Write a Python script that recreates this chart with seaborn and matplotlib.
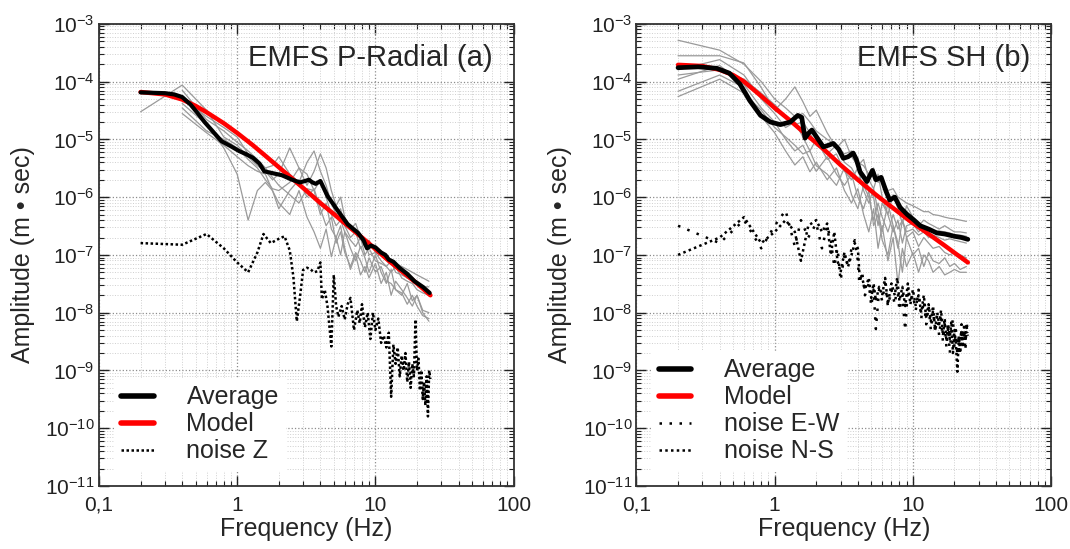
import numpy as np
import matplotlib
matplotlib.use("Agg")
import matplotlib.pyplot as plt
from matplotlib.ticker import LogLocator, NullFormatter
import seaborn as sns

# =====================================================
# DATA
# =====================================================
x_tick_labels = ["0,1", "1", "10", "100"]

# --- panel (a): P-Radial ---
freq_model_a = [0.2, 0.3, 0.4, 0.5, 0.6, 0.8, 1.0, 1.3, 1.6, 2.0, 2.5, 3.2, 4.0,
                5.0, 6.3, 8.0, 10, 12.5, 16, 20, 25]
model_a = [6.6e-5, 6.0e-5, 4.9e-5, 3.8e-5, 2.95e-5, 1.9e-5, 1.29e-5, 7.9e-6, 5.2e-6,
           3.3e-6, 2.1e-6, 1.26e-6, 7.9e-7, 5.1e-7, 3.2e-7, 2.0e-7, 1.26e-7, 7.9e-8,
           4.9e-8, 3.2e-8, 2.0e-8]

freq_avg_a = [0.2, 0.3, 0.35, 0.4, 0.46, 0.52, 0.58, 0.68, 0.77, 0.9, 1.03, 1.15, 1.3,
              1.45, 1.57, 1.8, 2.1, 2.5, 2.84, 3.1, 3.3, 3.5, 3.7, 4.0, 4.5, 5.3, 6.3,
              7.0, 7.5, 8.2, 8.7, 9.3, 10, 11, 11.8, 12.5, 13.5, 14.9, 17, 19.2, 22, 24.7]
avg_a = [6.5e-5, 6.3e-5, 6.0e-5, 5.4e-5, 4.0e-5, 2.8e-5, 2.0e-5, 1.3e-5, 9.3e-6, 7.6e-6,
         6.3e-6, 5.6e-6, 4.8e-6, 3.8e-6, 2.8e-6, 2.6e-6, 2.4e-6, 2.0e-6, 1.8e-6, 1.9e-6,
         2.0e-6, 1.8e-6, 1.7e-6, 1.9e-6, 1.05e-6, 6.0e-7, 3.4e-7, 2.75e-7, 2.4e-7, 1.8e-7,
         1.3e-7, 1.45e-7, 1.35e-7, 1.1e-7, 1.0e-7, 8.3e-8, 7.6e-8, 6.0e-8, 4.7e-8, 3.5e-8,
         2.8e-8, 2.2e-8]

# single-station spectra share one frequency list
freq_grey = [0.2, 0.4, 0.6, 0.8, 1.0, 1.2, 1.4, 1.6, 1.8, 2.0, 2.4, 2.8, 3.2, 3.6, 4.0,
             4.4, 4.8, 5.2, 5.6, 6.0, 6.6, 7.2, 7.8, 8.4, 9.0, 10, 11, 12, 13, 14, 15.5,
             17, 18.5, 20, 22, 24.4]

sta_a1 = [3.0e-5, 8.7e-5, 3.2e-5, 1.1e-5, 7.9e-6, 5.0e-6, 3.5e-6, 2.8e-6, 2.0e-6, 2.5e-6,
          7.1e-6, 3.2e-6, 1.6e-6, 2.8e-6, 5.6e-6, 3.2e-6, 1.3e-6, 7.1e-7, 1.0e-6, 4.5e-7,
          2.8e-7, 3.5e-7, 2.0e-7, 1.4e-7, 1.8e-7, 1.1e-7, 1.0e-7, 8.9e-8, 7.9e-8, 7.1e-8,
          6.3e-8, 5.6e-8, 5.0e-8, 4.5e-8, 4.0e-8, 3.5e-8]
sta_a2 = [None, 7.1e-5, 2.2e-5, 1.4e-5, 8.9e-6, 6.3e-6, 4.5e-6, 3.2e-6, 3.5e-6, 5.0e-6,
          2.5e-6, 1.8e-6, 4.0e-6, 6.3e-6, 2.8e-6, 1.6e-6, 7.9e-7, 5.0e-7, 6.3e-7, 3.2e-7,
          2.0e-7, 2.5e-7, 1.3e-7, 1.6e-7, 1.0e-7, 1.1e-7, 7.9e-8, 6.3e-8, 7.9e-8, 5.0e-8,
          4.5e-8, 4.0e-8, 3.5e-8, 3.2e-8, 2.8e-8, 2.8e-8]
sta_a3 = [None, 4.2e-5, 1.8e-5, 7.1e-6, 2.5e-6, 4.0e-7, 1.3e-6, 1.8e-6, 1.3e-6, 6.3e-7,
          1.3e-6, 2.0e-6, 1.0e-6, 1.4e-6, 6.3e-7, 3.2e-7, 4.5e-7, 1.6e-7, 2.5e-7, 1.1e-7,
          6.3e-8, 1.1e-7, 7.9e-8, 5.0e-8, 8.9e-8, 5.0e-8, 6.3e-8, 3.5e-8, 3.2e-8, 2.5e-8,
          2.2e-8, 1.4e-8, 2.0e-8, 1.3e-8, 8.9e-9, 7.9e-9]
sta_a4 = [None, 3.5e-5, 1.4e-5, 1.0e-5, 7.1e-6, 4.5e-6, 3.2e-6, 2.0e-6, 1.4e-6, 1.3e-6,
          1.8e-6, 3.2e-6, 2.5e-6, 1.3e-6, 2.0e-6, 1.0e-6, 5.0e-7, 3.2e-7, 4.0e-7, 2.5e-7,
          1.8e-7, 1.4e-7, 2.0e-7, 1.0e-7, 1.3e-7, 7.9e-8, 7.1e-8, 6.3e-8, 5.0e-8, 6.3e-8,
          4.0e-8, 3.5e-8, 3.2e-8, 2.5e-8, 2.2e-8, 2.0e-8]
sta_a5 = [None, 5.0e-5, 2.5e-5, 1.6e-5, 1.1e-5, 5.6e-6, 4.0e-6, 3.2e-6, 2.2e-6, 1.6e-6,
          1.1e-6, 7.9e-7, 1.4e-6, 1.3e-6, 5.0e-7, 7.9e-7, 2.8e-7, 2.0e-7, 1.0e-7, 2.5e-7,
          1.3e-7, 7.9e-8, 1.4e-7, 8.9e-8, 5.0e-8, 1.0e-7, 5.0e-8, 3.2e-8, 5.6e-8, 2.5e-8,
          2.0e-8, 3.2e-8, 1.6e-8, 2.0e-8, 1.1e-8, 1.0e-8]
sta_a6 = [None, 2.8e-5, 1.3e-5, 7.9e-6, 5.0e-6, 3.5e-6, 2.8e-6, 2.5e-6, 1.3e-6, 7.9e-7,
          5.0e-7, 1.3e-6, 4.5e-7, 2.5e-7, 1.3e-7, 2.8e-7, 9.3e-8, 2.0e-7, 3.2e-7, 1.3e-7,
          5.6e-8, 1.0e-7, 4.5e-8, 6.3e-8, 4.0e-8, 7.1e-8, 3.2e-8, 5.0e-8, 2.0e-8, 3.5e-8,
          2.5e-8, 1.8e-8, 1.3e-8, 2.0e-8, 1.0e-8, 7.1e-9]

# noise spectra share one frequency list
freq_noise = [0.2, 0.4, 0.6, 0.8, 1.0, 1.2, 1.4, 1.55, 1.75, 2.0, 2.2, 2.4, 2.55, 2.7,
              2.85, 3.0, 3.2, 3.4, 3.6, 3.8, 4.0, 4.1, 4.3, 4.5, 4.8, 5.0, 5.2, 5.4, 5.7,
              6.0, 6.3, 6.6, 7.0, 7.4, 7.7, 8.0, 8.4, 8.8, 9.2, 9.6, 10.0, 10.5, 11.0,
              11.5, 12.0, 12.5, 13.0, 13.5, 14.0, 14.5, 15.0, 15.5, 16.0, 16.5, 17.0,
              17.5, 18.0, 18.5, 19.0, 19.5, 20.0, 20.5, 21.0, 21.5, 22.0, 22.5, 23.0,
              23.5, 24.0, 24.5, 25.0]
noise_z = [1.6e-7, 1.5e-7, 2.3e-7, 1.3e-7, 7.4e-8, 5.0e-8, 1.1e-7, 2.3e-7, 1.6e-7, 1.9e-7,
           2.1e-7, 1.2e-7, 4.2e-8, 7.1e-9, 1.9e-8, 5.5e-8, 6.0e-8, 5.6e-8, 5.0e-8, 5.2e-8,
           7.4e-8, 1.7e-8, 2.5e-8, 1.3e-8, 2.6e-9, 4.5e-8, 1.3e-8, 8.5e-9, 1.3e-8, 7.6e-9,
           1.4e-8, 1.8e-8, 5.0e-9, 1.1e-8, 6.6e-9, 1.4e-8, 5.6e-9, 1.0e-8, 3.5e-9, 1.0e-8,
           5.0e-9, 7.9e-9, 3.0e-9, 4.0e-9, 2.5e-9, 4.5e-9, 3.5e-10, 2.8e-9, 1.3e-9, 2.5e-9,
           7.9e-10, 1.8e-9, 1.0e-9, 2.0e-9, 6.3e-10, 1.4e-9, 5.0e-10, 1.3e-9, 7.9e-10, 7.6e-9,
           1.0e-9, 1.6e-9, 4.5e-10, 1.0e-9, 3.2e-10, 6.3e-10, 2.5e-10, 7.9e-10, 1.6e-10,
           1.0e-9, 7.1e-10]

# --- panel (b): SH ---
freq_model_b = [0.2, 0.3, 0.4, 0.5, 0.6, 0.8, 1.0, 1.3, 1.7, 2.2, 3.0, 4.0, 5.4, 7.0,
                9.6, 13, 17, 21, 25]
model_b = [1.95e-4, 1.86e-4, 1.6e-4, 1.3e-4, 1.0e-4, 5.6e-5, 3.5e-5, 2.1e-5, 1.2e-5,
           7.2e-6, 3.6e-6, 2.0e-6, 1.1e-6, 6.8e-7, 3.8e-7, 2.3e-7, 1.45e-7, 1.0e-7, 7.4e-8]

freq_avg_b = [0.2, 0.28, 0.38, 0.47, 0.56, 0.66, 0.79, 0.93, 1.1, 1.3, 1.47, 1.57, 1.66,
              1.75, 1.86, 2.0, 2.25, 2.45, 2.66, 2.9, 3.14, 3.4, 3.7, 3.9, 4.15, 4.65,
              5.1, 5.4, 5.9, 6.4, 6.8, 7.4, 8.1, 9.1, 10.2, 11.3, 13.0, 14.9, 17, 20,
              22.5, 25]
avg_b = [1.74e-4, 1.8e-4, 1.7e-4, 1.4e-4, 9.1e-5, 4.7e-5, 2.6e-5, 2.0e-5, 1.8e-5, 2.0e-5,
         2.6e-5, 2.4e-5, 1.05e-5, 1.26e-5, 1.45e-5, 1.12e-5, 7.4e-6, 7.9e-6, 8.5e-6, 6.8e-6,
         4.7e-6, 5.0e-6, 5.8e-6, 4.5e-6, 2.75e-6, 1.86e-6, 2.9e-6, 2.0e-6, 2.2e-6, 1.26e-6,
         8.9e-7, 1.0e-6, 6.6e-7, 5.0e-7, 4.0e-7, 3.2e-7, 2.8e-7, 2.4e-7, 2.3e-7, 2.1e-7,
         2.0e-7, 1.86e-7]

sta_b1 = [5.2e-4, 3.5e-4, 2.0e-4, 1.0e-4, 5.0e-5, 3.5e-5, 2.5e-5, 2.8e-5, 2.0e-5, 1.4e-5,
          1.0e-5, 7.9e-6, 5.6e-6, 6.3e-6, 4.0e-6, 3.5e-6, 2.5e-6, 3.2e-6, 1.8e-6, 2.0e-6,
          1.3e-6, 1.4e-6, 1.0e-6, 8.9e-7, 7.9e-7, 7.1e-7, 6.3e-7, 5.6e-7, 5.6e-7, 5.0e-7,
          4.8e-7, 4.5e-7, 4.3e-7, 4.2e-7, 4.0e-7, 3.8e-7]
sta_b2 = [2.8e-4, 2.8e-4, 2.1e-4, 7.9e-5, 3.2e-5, 5.0e-5, 8.1e-5, 4.5e-5, 2.5e-5, 3.2e-5,
          1.3e-5, 7.1e-6, 1.0e-5, 5.0e-6, 3.5e-6, 4.5e-6, 2.0e-6, 1.4e-6, 2.5e-6, 1.0e-6,
          5.0e-7, 1.1e-6, 6.3e-7, 3.5e-7, 7.1e-7, 4.5e-7, 3.2e-7, 4.0e-7, 3.5e-7, 3.2e-7,
          2.8e-7, 3.2e-7, 2.8e-7, 2.5e-7, 2.5e-7, 2.4e-7]
sta_b3 = [1.6e-4, 2.4e-4, 1.3e-4, 5.0e-5, 2.8e-5, 1.6e-5, 2.0e-5, 1.1e-5, 6.3e-6, 1.0e-5,
          4.5e-6, 5.6e-6, 2.8e-6, 2.0e-6, 3.2e-6, 1.3e-6, 7.9e-7, 1.4e-6, 5.6e-7, 2.5e-7,
          7.9e-7, 3.2e-7, 1.3e-7, 4.0e-7, 2.0e-7, 2.5e-7, 1.4e-7, 2.0e-7, 1.6e-7, 1.3e-7,
          1.4e-7, 1.1e-7, 1.0e-7, 1.1e-7, 1.0e-7, 8.9e-8]
sta_b4 = [1.1e-4, 1.9e-4, 8.9e-5, 3.5e-5, 2.0e-5, 1.0e-5, 6.3e-6, 7.9e-6, 4.5e-6, 2.8e-6,
          5.0e-6, 2.5e-6, 1.6e-6, 2.5e-6, 1.0e-6, 6.3e-7, 1.3e-6, 3.2e-7, 5.0e-7, 1.8e-7,
          1.0e-7, 3.2e-7, 1.6e-7, 5.0e-8, 2.0e-7, 1.0e-7, 1.3e-7, 6.3e-8, 1.1e-7, 7.9e-8,
          7.1e-8, 8.9e-8, 6.3e-8, 7.1e-8, 5.6e-8, 6.3e-8]
sta_b5 = [6.8e-5, 1.3e-4, 7.9e-5, 2.5e-5, 1.3e-5, 6.3e-6, 3.6e-6, 5.0e-6, 2.75e-6, 4.0e-6,
          2.0e-6, 3.2e-6, 1.3e-6, 7.9e-7, 1.4e-6, 5.0e-7, 2.5e-7, 6.3e-7, 1.3e-7, 3.2e-7,
          7.9e-8, 2.0e-7, 3.2e-8, 1.3e-7, 6.3e-8, 1.1e-7, 5.0e-8, 1.0e-7, 7.9e-8, 5.0e-8,
          6.3e-8, 4.5e-8, 5.0e-8, 5.6e-8, 5.0e-8, 5.0e-8]
sta_b6 = [5.5e-5, 1.1e-4, 6.3e-5, 3.2e-5, 1.6e-5, 1.1e-5, 7.9e-6, 5.6e-6, 6.3e-6, 3.5e-6,
          2.5e-6, 1.6e-6, 3.2e-6, 1.1e-6, 6.3e-7, 1.6e-6, 1.0e-6, 4.0e-7, 7.9e-7, 4.5e-7,
          2.5e-7, 5.0e-7, 2.8e-7, 4.0e-7, 2.5e-7, 2.8e-7, 2.2e-7, 2.5e-7, 2.0e-7, 2.2e-7,
          2.0e-7, 1.8e-7, 1.9e-7, 1.8e-7, 1.7e-7, 1.6e-7]
sta_b7 = [1.3e-4, 1.6e-4, 1.1e-4, 6.3e-5, 4.0e-5, 2.5e-5, 1.8e-5, 2.0e-5, 1.3e-5, 7.9e-6,
          5.6e-6, 7.9e-6, 4.0e-6, 3.2e-6, 2.0e-6, 2.5e-6, 1.4e-6, 1.0e-6, 3.2e-7, 7.9e-7,
          5.0e-7, 2.5e-7, 4.0e-7, 1.6e-7, 3.2e-7, 3.5e-7, 2.5e-7, 3.2e-7, 2.8e-7, 2.5e-7,
          2.6e-7, 2.5e-7, 2.4e-7, 2.2e-7, 2.2e-7, 2.1e-7]

noise_ew = [3.2e-7, 1.6e-7, 4.0e-7, 1.3e-7, 3.2e-7, 5.9e-7, 1.4e-7, 4.0e-7, 2.0e-7, 3.5e-7,
            1.3e-7, 3.2e-7, 1.8e-7, 6.3e-8, 1.3e-7, 3.6e-8, 1.0e-7, 6.3e-8, 1.3e-7, 1.8e-7,
            7.9e-8, 3.2e-8, 5.0e-8, 2.0e-8, 3.2e-8, 1.3e-8, 2.5e-8, 5.2e-9, 2.5e-8, 1.6e-8,
            3.2e-8, 1.3e-8, 2.5e-8, 1.4e-8, 2.8e-8, 1.1e-8, 2.0e-8, 5.0e-9, 2.5e-8, 1.6e-8,
            2.0e-8, 1.1e-8, 2.5e-8, 7.9e-9, 1.6e-8, 6.3e-9, 1.3e-8, 5.0e-9, 1.1e-8, 4.5e-9,
            8.9e-9, 4.0e-9, 7.9e-9, 3.2e-9, 6.3e-9, 2.5e-9, 5.6e-9, 2.0e-9, 5.0e-9, 7.9e-9,
            2.5e-9, 5.0e-9, 1.8e-9, 4.0e-9, 2.5e-9, 6.3e-9, 2.8e-9, 5.0e-9, 2.2e-9, 7.1e-9,
            4.0e-9]
noise_ns = [1.0e-7, 2.0e-7, 4.5e-7, 1.6e-7, 2.5e-7, 4.0e-7, 2.5e-7, 7.9e-8, 3.2e-7, 4.0e-7,
            2.5e-7, 3.5e-7, 1.0e-7, 2.5e-7, 7.9e-8, 5.0e-8, 1.1e-7, 6.3e-8, 1.0e-7, 1.6e-7,
            1.3e-7, 5.0e-8, 4.0e-8, 2.5e-8, 4.0e-8, 1.8e-8, 3.2e-8, 1.6e-8, 2.8e-8, 2.0e-8,
            4.0e-8, 1.4e-8, 3.2e-8, 2.0e-8, 4.0e-8, 1.6e-8, 2.8e-8, 1.3e-8, 3.2e-8, 1.4e-8,
            2.5e-8, 1.3e-8, 2.0e-8, 1.0e-8, 2.0e-8, 7.9e-9, 1.4e-8, 7.1e-9, 1.3e-8, 5.0e-9,
            1.0e-8, 6.3e-9, 1.1e-8, 4.0e-9, 7.9e-9, 3.2e-9, 6.3e-9, 3.5e-9, 7.1e-9, 2.0e-9,
            5.0e-9, 2.8e-9, 9.5e-10, 4.0e-9, 2.0e-9, 5.0e-9, 2.5e-9, 6.3e-9, 3.2e-9, 5.6e-9,
            4.5e-9]

stations_a = [sta_a1, sta_a2, sta_a3, sta_a4, sta_a5, sta_a6]
stations_b = [sta_b1, sta_b2, sta_b3, sta_b4, sta_b5, sta_b6, sta_b7]

# =====================================================
# STYLE
# =====================================================
sns.set_theme(style="ticks")
plt.rcParams['font.family'] = ['Liberation Sans', 'DejaVu Sans']
plt.rcParams['mathtext.fontset'] = 'custom'
plt.rcParams['mathtext.rm'] = 'Liberation Sans'
plt.rcParams['mathtext.it'] = 'Liberation Sans:italic'
plt.rcParams['mathtext.bf'] = 'Liberation Sans:bold'

GREY = '#9a9a9a'


def style_axes(ax):
    ax.set_xscale('log')
    ax.set_yscale('log')
    ax.set_xlim(0.1, 100)
    ax.set_ylim(1e-11, 1e-3)
    ax.set_xticks([0.1, 1, 10, 100], x_tick_labels)
    ax.xaxis.set_minor_locator(LogLocator(base=10, subs=np.arange(2, 10), numticks=50))
    ax.xaxis.set_minor_formatter(NullFormatter())
    ax.yaxis.set_major_locator(LogLocator(base=10, numticks=20))
    ax.yaxis.set_minor_locator(LogLocator(base=10, subs=np.arange(2, 10), numticks=200))
    ax.yaxis.set_minor_formatter(NullFormatter())
    ax.tick_params(which='both', direction='in', top=True, right=True, colors='#222222')
    ax.tick_params(which='major', length=7, width=1.0, labelsize=15)
    ax.tick_params(axis='x', which='major', pad=7)
    ax.tick_params(axis='y', which='major', pad=3)
    ax.tick_params(which='minor', length=3.5, width=0.8)
    ax.grid(which='major', ls=':', color='#8c8c8c', lw=0.9)
    ax.grid(which='minor', ls=':', color='#cfcfcf', lw=0.7)
    ax.set_axisbelow(True)
    for sp in ax.spines.values():
        sp.set_linewidth(1.3)
        sp.set_color('#333333')
    ax.set_xlabel("Frequency (Hz)", fontsize=18)
    ax.set_ylabel("Amplitude (m \u2022 sec)", fontsize=18)
    ax.xaxis.set_label_coords(0.5, -0.068)
    ax.yaxis.set_label_coords(-0.155, 0.5)


def draw_stations(ax, stations):
    for st in stations:
        sns.lineplot(x=freq_grey, y=np.array(st, dtype=float), ax=ax, color=GREY,
                     lw=0.9, estimator=None, sort=False, zorder=2)


fig = plt.figure(figsize=(10.70, 5.49), dpi=100)
ax_a = fig.add_axes([0.0925, 0.1148, 0.3875, 0.8418])
ax_b = fig.add_axes([0.5948, 0.1148, 0.3875, 0.8418])

# =====================================================
# PANEL (a)
# =====================================================
style_axes(ax_a)
draw_stations(ax_a, stations_a)
sns.lineplot(x=freq_noise, y=noise_z, ax=ax_a, color='black', lw=1.8,
             linestyle=(0, (1, 1)), estimator=None, sort=False, zorder=3, label='noise Z')
sns.lineplot(x=freq_model_a, y=model_a, ax=ax_a, color='#ff0000', lw=3.2,
             estimator=None, sort=False, zorder=4, label='Model')
sns.lineplot(x=freq_avg_a, y=avg_a, ax=ax_a, color='black', lw=3.0,
             estimator=None, sort=False, zorder=5, label='Average')
ax_a.text(0.95, 0.926, "EMFS P-Radial (a)", transform=ax_a.transAxes,
          ha='right', va='center', fontsize=21)

h, l = ax_a.get_legend_handles_labels()
order = [l.index('Average'), l.index('Model'), l.index('noise Z')]
ax_a.legend([h[i] for i in order], [l[i] for i in order], loc='lower left',
            fontsize=18, frameon=True, facecolor='white', edgecolor='none',
            framealpha=1, fancybox=False, handlelength=1.3, handletextpad=1.3,
            labelspacing=0.12, borderpad=0.3, borderaxespad=0.6)
for line in ax_a.get_legend().get_lines()[:2]:
    line.set_linewidth(4)

# =====================================================
# PANEL (b)
# =====================================================
style_axes(ax_b)
draw_stations(ax_b, stations_b)
sns.lineplot(x=freq_noise, y=noise_ew, ax=ax_b, color='black', lw=1.8,
             linestyle=(0, (1, 3)), estimator=None, sort=False, zorder=3, label='noise E-W')
sns.lineplot(x=freq_noise, y=noise_ns, ax=ax_b, color='black', lw=1.8,
             linestyle=(0, (1, 1.3)), estimator=None, sort=False, zorder=3, label='noise N-S')
sns.lineplot(x=freq_model_b, y=model_b, ax=ax_b, color='#ff0000', lw=3.2,
             estimator=None, sort=False, zorder=4, label='Model')
sns.lineplot(x=freq_avg_b, y=avg_b, ax=ax_b, color='black', lw=3.4,
             estimator=None, sort=False, zorder=5, label='Average')
ax_b.text(0.95, 0.926, "EMFS SH (b)", transform=ax_b.transAxes,
          ha='right', va='center', fontsize=21)

h, l = ax_b.get_legend_handles_labels()
order = [l.index('Average'), l.index('Model'), l.index('noise E-W'), l.index('noise N-S')]
ax_b.legend([h[i] for i in order], [l[i] for i in order], loc='lower left',
            fontsize=18, frameon=True, facecolor='white', edgecolor='none',
            framealpha=1, fancybox=False, handlelength=1.3, handletextpad=1.3,
            labelspacing=0.12, borderpad=0.3, borderaxespad=0.6)
for line in ax_b.get_legend().get_lines()[:2]:
    line.set_linewidth(4)

fig.savefig("out.png", dpi=100)
